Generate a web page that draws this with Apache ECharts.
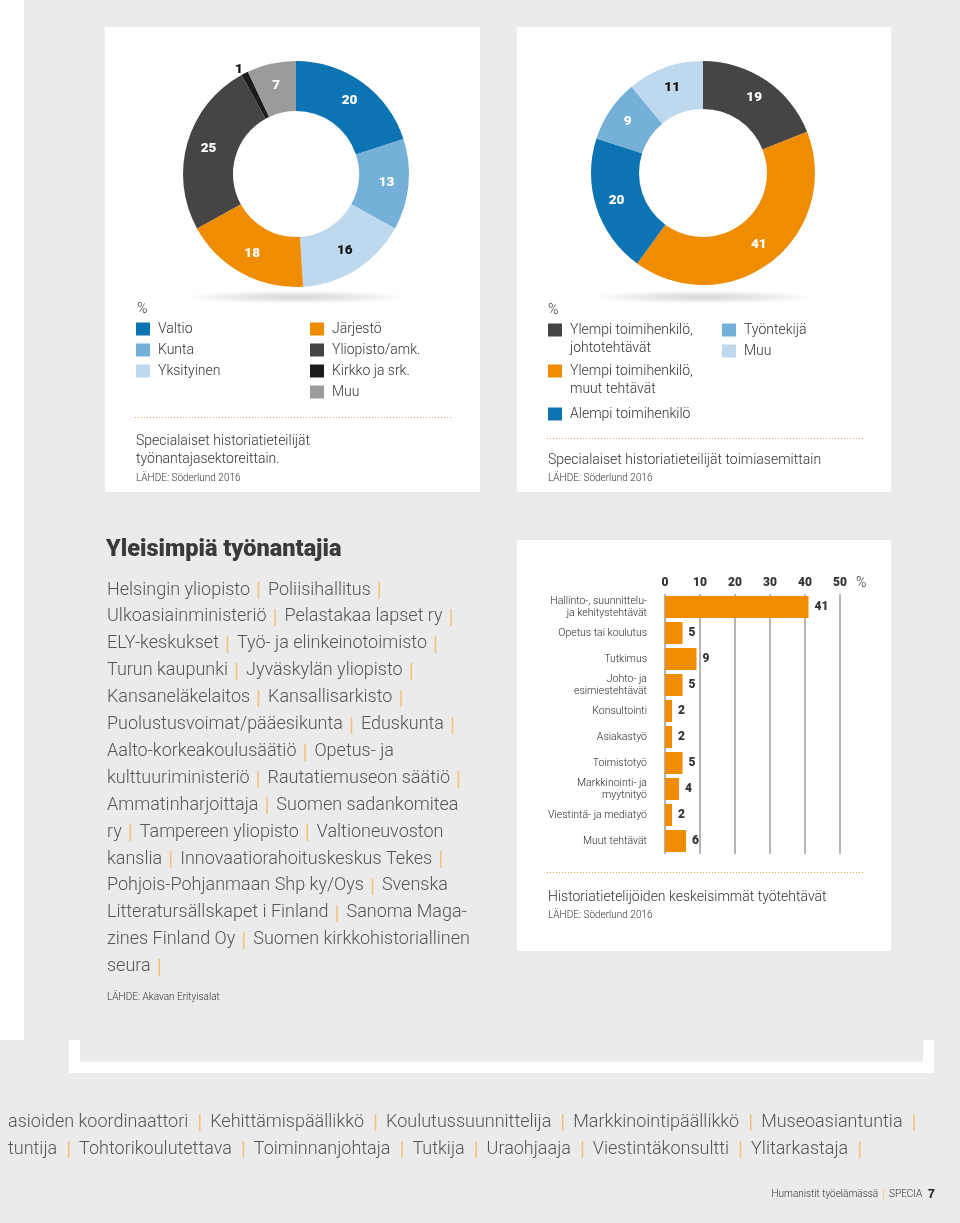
<!DOCTYPE html>
<html><head><meta charset="utf-8">
<script src="https://cdn.jsdelivr.net/npm/echarts@6/dist/echarts.min.js"></script>
<style>html,body{margin:0;padding:0;background:#ebebeb}#c{width:960px;height:1223px}</style>
</head><body><div id="c"></div>
<script>
// ---- data ----
const sectorNames = ['Valtio','Kunta','Yksityinen','Järjestö','Yliopisto/amk.','Kirkko ja srk.','Muu'];
const sectorValues = [20,13,16,18,25,1,7];
const positionNames = ['Ylempi toimihenkilö, johtotehtävät','Ylempi toimihenkilö, muut tehtävät','Alempi toimihenkilö','Työntekijä','Muu'];
const positionLegend = ['Ylempi toimihenkilö,\njohtotehtävät','Ylempi toimihenkilö,\nmuut tehtävät','Alempi toimihenkilö','Työntekijä','Muu'];
const positionValues = [19,41,20,9,11];
const taskNames = ['Hallinto-, suunnittelu-\nja kehitystehtävät','Opetus tai koulutus','Tutkimus','Johto- ja\nesimiestehtävät','Konsultointi','Asiakastyö','Toimistotyö','Markkinointi- ja\nmyytnityö','Viestintä- ja mediatyö','Muut tehtävät'];
const taskValues = [41,5,9,5,2,2,5,4,2,6];
const employerLines = [
 'Helsingin yliopisto | Poliisihallitus |',
 'Ulkoasiainministeriö | Pelastakaa lapset ry |',
 'ELY-keskukset | Työ- ja elinkeinotoimisto |',
 'Turun kaupunki | Jyväskylän yliopisto |',
 'Kansaneläkelaitos | Kansallisarkisto |',
 'Puolustusvoimat/pääesikunta | Eduskunta |',
 'Aalto-korkeakoulusäätiö | Opetus- ja',
 'kulttuuriministeriö | Rautatiemuseon säätiö |',
 'Ammatinharjoittaja | Suomen sadankomitea',
 'ry | Tampereen yliopisto | Valtioneuvoston',
 'kanslia | Innovaatiorahoituskeskus Tekes |',
 'Pohjois-Pohjanmaan Shp ky/Oys | Svenska',
 'Litteratursällskapet i Finland | Sanoma Maga-',
 'zines Finland Oy | Suomen kirkkohistoriallinen',
 'seura |'
];
const titleLines = [
 'asioiden koordinaattori | Kehittämispäällikkö | Koulutussuunnittelija | Markkinointipäällikkö | Museoasiantuntia |',
 'tuntija | Tohtorikoulutettava | Toiminnanjohtaja | Tutkija | Uraohjaaja | Viestintäkonsultti | Ylitarkastaja |'
];

// ---- styles ----
const C = {dblue:'#0c74b2', mblue:'#74b0d8', lblue:'#bed9ee', orange:'#f08c00', dgray:'#454545', black:'#1c1c1c', gray:'#9b9b9b'};
const sectorColors = [C.dblue,C.mblue,C.lblue,C.orange,C.dgray,C.black,C.gray];
const positionColors = [C.dgray,C.orange,C.dblue,C.mblue,C.lblue];
const FONT = 'Roboto, "Noto Sans", sans-serif';
const SEP = '#f3c27e';

const chart = echarts.init(document.getElementById('c'), null, {renderer:'canvas'});
const g = [];
function rect(x,y,w,h,fill,z){ g.push({type:'rect', z:z||-20, shape:{x,y,width:w,height:h}, style:{fill}, silent:true}); }
function text(x,y,t,opt){ opt=opt||{}; g.push({type:'text', z:20, x, y, style:Object.assign({text:t, fill:'#333', fontFamily:FONT, fontSize:14, fontWeight:'normal', verticalAlign:'middle', align:'left'}, opt)}); }
function dotted(x1,x2,y){ g.push({type:'line', z:20, shape:{x1,y1:y,x2,y2:y}, style:{stroke:'#e8a33d', lineWidth:1, lineDash:[1,2]}}); }
function sepRich(s){ return s.split(' | ').join('{p||}').replace(/ \|$/,'{p||}'); }
function shadow(cx,cy,rx){ g.push({type:'circle', z:-5, x:cx, y:cy, scaleY:0.06, shape:{cx:0,cy:0,r:rx}, silent:true, style:{fill:{type:'radial',x:0.5,y:0.5,r:0.5,colorStops:[{offset:0,color:'rgba(0,0,0,0.17)'},{offset:0.6,color:'rgba(0,0,0,0.07)'},{offset:1,color:'rgba(0,0,0,0)'}]}}}); }

// background structure
rect(0,0,24,1040,'#ffffff');
rect(105,27,375,465,'#ffffff');
rect(517,27,374,465,'#ffffff');
rect(517,540,374,411,'#ffffff');
rect(69,1040,11,33,'#ffffff');
rect(69,1062,865,11,'#ffffff');
rect(923,1040,11,33,'#ffffff');
shadow(296,297,112);
shadow(703,297,112);

// legend 1 (sectors)
text(137,309,'%',{fontSize:14,fontWeight:300});
sectorNames.forEach((n,i)=>{
  const col = i<3?0:1, row = i<3?i:i-3;
  const x = col? 310:136, y = 329+row*21;
  g.push({type:'rect', z:20, shape:{x, y:y-6.5, width:14, height:13}, style:{fill:sectorColors[i]}});
  text(x+22,y,n,{fontSize:14,fontWeight:300});
});
dotted(135,452,417.5);
text(136,441.5,'Specialaiset historiatieteilijät',{fontSize:14,fontWeight:300});
text(136,459.5,'työnantajasektoreittain.',{fontSize:14,fontWeight:300});
text(136,478,'LÄHDE: Söderlund 2016',{fontSize:10,fontWeight:300});

// legend 2 (positions)
text(548,310,'%',{fontSize:14,fontWeight:300});
const pos2 = [[548,330],[548,371],[548,414],[722,330],[722,351]];
positionLegend.forEach((n,i)=>{
  const [x,y] = pos2[i];
  g.push({type:'rect', z:20, shape:{x, y:y-6.5, width:14, height:13}, style:{fill:positionColors[i]}});
  text(x+22,y-9,n,{fontSize:14,fontWeight:300,verticalAlign:'top',lineHeight:18});
});
dotted(547,864,438.5);
text(548,460,'Specialaiset historiatieteilijät toimiasemittain',{fontSize:14,fontWeight:300});
text(548,478,'LÄHDE: Söderlund 2016',{fontSize:10,fontWeight:300});

// bar caption
text(856,583,'%',{fontSize:14,fontWeight:300});
dotted(547,864,872.5);
text(548,897,'Historiatietelijöiden keskeisimmät työtehtävät',{fontSize:14,fontWeight:300});
text(548,915,'LÄHDE: Söderlund 2016',{fontSize:10,fontWeight:300});

// employers block
text(106,550,'Yleisimpiä työnantajia',{fontSize:23.5,fontWeight:900,fill:'#3a3a3a'});
employerLines.forEach((l,i)=>{
  text(107,590+i*26.9,sepRich(l),{fontSize:18,fontWeight:300,fill:'#555',rich:{p:{fill:SEP,fontSize:19,fontWeight:300,padding:[0,7,0,6]}}});
});
text(107,997,'LÄHDE: Akavan Erityisalat',{fontSize:10,fontWeight:300});

// bottom titles
titleLines.forEach((l,i)=>{
  text(8,1122+i*27,sepRich(l),{fontSize:18,fontWeight:300,fill:'#555',rich:{p:{fill:SEP,fontSize:19,fontWeight:300,padding:[0,8,0,9]}}});
});
text(935,1194,'Humanistit työelämässä{p||}SPECIA {b|7}',{fontSize:10,fontWeight:300,align:'right',fill:'#333',rich:{p:{fill:SEP,fontSize:11,padding:[0,4,0,4]},b:{fontSize:13,fontWeight:'bold',fill:'#222',padding:[0,0,0,3]}}});

const pieLabel = {show:true, position:'inside', color:'#fff', fontFamily:FONT, fontSize:13.5, fontWeight:900, formatter:'{c}'};

chart.setOption({
  backgroundColor:'#ebebeb',
  animation:false,
  graphic:g,
  grid:{left:665, right:120, top:594, bottom:369, containLabel:false},
  xAxis:{type:'value', position:'top', min:0, max:50, interval:10,
    axisLine:{show:false}, axisTick:{show:false},
    axisLabel:{margin:5, color:'#333', fontFamily:FONT, fontSize:12, fontWeight:900},
    splitLine:{lineStyle:{color:'#9d9d9d', width:1.5}}},
  yAxis:{type:'category', inverse:true, data:taskNames,
    axisLine:{show:false}, axisTick:{show:false},
    axisLabel:{margin:18, color:'#2a2a2a', fontFamily:FONT, fontWeight:300, fontSize:10.5, lineHeight:12}},
  series:[
    {type:'pie', center:[296,174], radius:[63,113], startAngle:90, clockwise:true, silent:true,
      label:pieLabel, labelLine:{show:false},
      data: sectorNames.map((n,i)=>{
        const d = {name:n, value:sectorValues[i], itemStyle:{color:sectorColors[i]}};
        if(i===2) d.label = {color:'#111'};
        if(i===5) d.label = {position:'outside', color:'#111', distanceToLabelLine:0};
        if(i===5) d.labelLine = {show:false, length:4, length2:0};
        return d;
      })},
    {type:'pie', center:[703,173], radius:[64,112], startAngle:90, clockwise:true, silent:true,
      label:pieLabel, labelLine:{show:false},
      data: positionNames.map((n,i)=>{
        const d = {name:n, value:positionValues[i], itemStyle:{color:positionColors[i]}};
        if(i===4) d.label = {color:'#111'};
        return d;
      })},
    {type:'bar', data:taskValues, barWidth:22, itemStyle:{color:C.orange}, silent:true,
      label:{show:true, position:'right', distance:6, color:'#333', fontFamily:FONT, fontSize:12, fontWeight:900}}
  ]
});
</script></body></html>
